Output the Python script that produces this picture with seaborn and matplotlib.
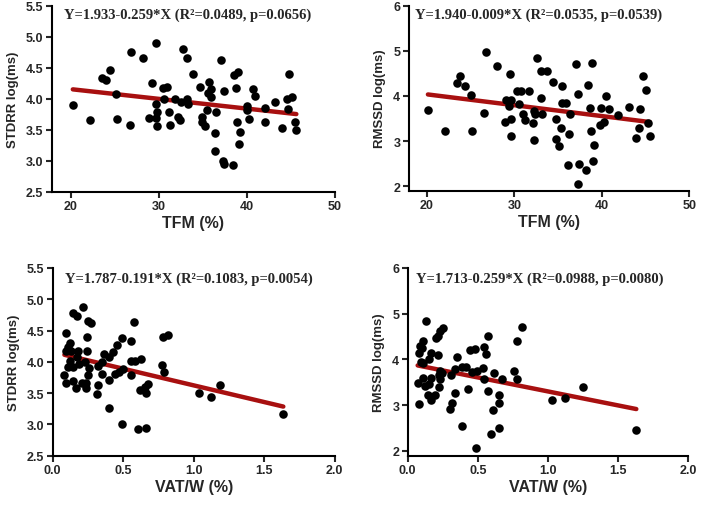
import numpy as np
import pandas as pd
import seaborn as sns
import matplotlib.pyplot as plt

# values
tfm_stdrr = [20.2, 22.1, 23.5, 24.0, 24.4, 25.1, 25.2, 26.7, 26.8, 28.2, 28.9, 29.2, 29.6, 29.7, 29.7,
             29.8, 29.8, 30.5, 30.6, 30.9, 31.1, 31.3, 31.8, 32.1, 32.4, 32.5, 32.7, 33.2, 33.2, 33.3,
             33.9, 34.6, 34.9, 34.9, 35.2, 35.5, 35.6, 35.7, 35.9, 35.9, 36.3, 36.4, 36.5, 37.0, 37.3,
             37.4, 37.4, 38.4, 38.5, 38.7, 39.0, 38.9, 39.1, 39.2, 40.0, 40.0, 40.2, 40.7, 40.9, 42.0,
             42.0, 43.2, 44.0, 44.5, 44.6, 44.8, 45.1, 45.4, 45.6]
stdrr_tfm = [3.90, 3.65, 4.33, 4.30, 4.46, 4.08, 3.67, 3.58, 4.75, 4.66, 3.69, 4.26, 3.69, 4.89, 3.92,
             3.79, 3.56, 4.17, 4.00, 4.19, 3.79, 3.58, 4.00, 3.70, 3.66, 3.94, 4.80, 4.00, 4.65, 3.91,
             4.40, 4.19, 3.70, 3.62, 3.56, 3.82, 4.09, 4.27, 4.16, 4.02, 3.15, 3.44, 3.79, 4.63, 3.00,
             2.94, 4.13, 2.93, 4.38, 4.18, 4.43, 3.63, 3.27, 3.47, 3.82, 3.88, 3.67, 4.15, 4.05, 3.85,
             3.63, 3.95, 3.52, 4.00, 3.83, 4.40, 4.03, 3.63, 3.50]

tfm_rmssd = [20.1, 22.0, 23.4, 23.8, 24.3, 25.0, 25.1, 26.5, 26.7, 28.0, 28.9, 29.0, 29.4, 29.5, 29.6,
             29.6, 29.6, 30.3, 30.7, 30.5, 31.0, 31.2, 31.7, 32.1, 32.2, 32.2, 32.4, 32.6, 33.0, 33.0,
             33.1, 33.7, 34.4, 34.8, 34.8, 35.1, 35.3, 35.4, 35.5, 35.9, 36.1, 36.3, 36.4, 37.0, 37.3,
             37.4, 37.3, 38.2, 38.4, 38.6, 38.9, 38.8, 39.1, 39.0, 39.8, 39.9, 40.2, 40.5, 40.8, 41.9,
             43.1, 43.9, 44.3, 44.4, 44.7, 45.0, 45.3, 45.5]
rmssd_tfm = [3.69, 3.23, 4.28, 4.44, 4.22, 4.03, 3.23, 3.63, 4.98, 4.67, 3.43, 3.90, 3.78, 4.48, 3.90,
             3.49, 3.12, 4.11, 4.11, 3.81, 3.59, 3.46, 4.11, 3.41, 3.03, 3.67, 3.59, 4.85, 4.55, 3.96,
             3.60, 4.55, 4.31, 3.49, 3.05, 2.90, 3.28, 3.84, 4.22, 3.84, 2.46, 3.16, 3.59, 4.71, 2.05,
             2.50, 4.05, 2.37, 4.24, 3.74, 4.72, 3.23, 2.92, 2.55, 3.36, 3.73, 3.42, 3.99, 3.70, 3.58,
             3.75, 3.06, 3.30, 3.71, 4.43, 4.12, 3.41, 3.12]

vat_stdrr = [0.213, 0.146, 0.175, 0.253, 0.272, 0.579, 0.094, 0.241, 0.489, 0.555, 0.785, 0.820, 0.123,
             0.111, 0.454, 0.182, 0.246, 0.092, 0.130, 0.425, 0.366, 0.399, 0.175, 0.123, 0.229, 0.555,
             0.584, 0.624, 0.348, 0.324, 0.189, 0.773, 0.111, 0.142, 0.260, 0.501, 0.473, 0.442, 0.348,
             0.792, 0.253, 0.555, 0.083, 0.094, 0.146, 0.210, 0.234, 0.399, 0.165, 0.236, 0.324, 0.678,
             0.655, 0.619, 0.659, 0.317, 0.402, 0.494, 0.603, 0.660, 1.038, 1.125, 1.189, 1.636]
stdrr_vat = [4.87, 4.78, 4.74, 4.65, 4.62, 4.64, 4.46, 4.39, 4.38, 4.33, 4.40, 4.43, 4.30, 4.23, 4.27,
             4.18, 4.18, 4.17, 4.18, 4.15, 4.13, 4.08, 4.07, 4.02, 3.99, 4.02, 4.02, 4.05, 3.99, 3.94,
             3.96, 3.95, 3.92, 3.92, 3.90, 3.89, 3.83, 3.81, 3.81, 3.84, 3.79, 3.79, 3.79, 3.67, 3.69,
             3.67, 3.66, 3.71, 3.58, 3.58, 3.63, 3.64, 3.60, 3.55, 3.51, 3.48, 3.27, 3.01, 2.93, 2.94,
             3.50, 3.44, 3.63, 3.16]

vat_rmssd = [0.133, 0.254, 0.230, 0.219, 0.200, 0.812, 0.570, 0.777, 0.112, 0.088, 0.105, 0.081, 0.166,
             0.214, 0.444, 0.480, 0.546, 0.558, 0.354, 0.152, 0.095, 0.112, 0.337, 0.385, 0.416, 0.230,
             0.242, 0.223, 0.309, 0.456, 0.492, 0.539, 0.615, 0.670, 0.760, 0.782, 0.546, 0.112, 0.166,
             0.071, 0.124, 0.152, 0.230, 0.226, 0.432, 0.337, 0.570, 0.143, 0.195, 0.166, 0.653, 0.081,
             0.314, 0.302, 0.651, 0.610, 0.390, 0.651, 0.594, 0.485, 1.03, 1.12, 1.25, 1.63]
rmssd_vat = [4.83, 4.69, 4.61, 4.52, 4.46, 4.70, 4.52, 4.41, 4.40, 4.29, 4.24, 4.13, 4.13, 4.10, 4.21,
             4.23, 4.27, 4.12, 4.05, 4.01, 3.94, 3.92, 3.79, 3.83, 3.83, 3.75, 3.70, 3.65, 3.65, 3.72,
             3.74, 3.81, 3.70, 3.56, 3.75, 3.57, 3.57, 3.59, 3.59, 3.48, 3.42, 3.46, 3.57, 3.39, 3.35,
             3.26, 3.30, 3.22, 3.22, 3.12, 3.22, 3.02, 3.04, 2.91, 3.04, 2.90, 2.55, 2.49, 2.37, 2.05,
             3.12, 3.16, 3.40, 2.45]

equations = [
    "Y=1.933-0.259*X (R\u00b2=0.0489, p=0.0656)",
    "Y=1.940-0.009*X (R\u00b2=0.0535, p=0.0539)",
    "Y=1.787-0.191*X (R\u00b2=0.1083, p=0.0054)",
    "Y=1.713-0.259*X (R\u00b2=0.0988, p=0.0080)",
]

sns.set_style("ticks")
plt.rcParams['font.family'] = ['Liberation Sans', 'DejaVu Sans']
plt.rcParams['font.weight'] = 'bold'

fig = plt.figure(figsize=(7.12, 5.06), dpi=100)

# [x, y, xlabel, ylabel, axes rect, xlim, ylim, xticks, yticks, yfmt, text pos]
panels = [
    (tfm_stdrr, stdrr_tfm, "TFM (%)", "STDRR log(ms)", [0.0726, 0.619, 0.398, 0.368],
     (17.8, 50), (2.5, 5.5), [20, 30, 40, 50], np.arange(2.5, 5.51, 0.5), "{:.1f}", (0.045, 0.955)),
    (tfm_rmssd, rmssd_tfm, "TFM (%)", "RMSSD log(ms)", [0.574, 0.621, 0.394, 0.366],
     (17.9, 50), (1.9, 6), [20, 30, 40, 50], [2, 3, 4, 5, 6], "{:.0f}", (0.024, 0.955)),
    (vat_stdrr, stdrr_vat, "VAT/W (%)", "STDRR log(ms)", [0.074, 0.0974, 0.396, 0.371],
     (0, 2.0), (2.5, 5.5), [0.0, 0.5, 1.0, 1.5, 2.0], np.arange(2.5, 5.51, 0.5), "{:.1f}", (0.042, 0.947)),
    (vat_rmssd, rmssd_vat, "VAT/W (%)", "RMSSD log(ms)", [0.5726, 0.0974, 0.394, 0.371],
     (0, 2.0), (1.89, 6), [0.0, 0.5, 1.0, 1.5, 2.0], [2, 3, 4, 5, 6], "{:.0f}", (0.028, 0.943)),
]

for i, (xs, ys, xlab, ylab, rect, xlim, ylim, xt, yt, yfmt, tpos) in enumerate(panels):
    ax = fig.add_axes(rect)
    df = pd.DataFrame({"x": xs, "y": ys})
    sns.regplot(data=df, x="x", y="y", ax=ax, ci=None, color="black",
                scatter_kws={"s": 38, "linewidths": 0, "alpha": 1, "zorder": 3},
                line_kws={"color": "#a81010", "lw": 3.2, "zorder": 2})
    ax.set_xlim(*xlim)
    ax.set_ylim(*ylim)
    ax.set_xticks(xt)
    ax.set_xticklabels(["{:.0f}".format(v) if xlab.startswith("TFM") else "{:.1f}".format(v) for v in xt])
    ax.set_yticks(yt)
    ax.set_yticklabels([yfmt.format(v) for v in yt])
    ax.set_xlabel(xlab, fontsize=11.5, fontweight="bold", labelpad=2)
    ax.set_ylabel(ylab, fontsize=9.5, fontweight="bold", labelpad=5)
    ax.tick_params(labelsize=9, width=1.5, length=4, direction="out", pad=2)
    for lab in ax.get_xticklabels() + ax.get_yticklabels():
        lab.set_fontweight("bold")
    sns.despine(ax=ax)
    for sp in ["left", "bottom"]:
        ax.spines[sp].set_linewidth(1.5)
        ax.spines[sp].set_color("black")
    ax.text(tpos[0], tpos[1], equations[i], transform=ax.transAxes, ha="left", va="center",
            fontsize=10.5, fontweight="bold", family=["Liberation Serif", "DejaVu Serif"])

fig.savefig("out.png", dpi=100)
